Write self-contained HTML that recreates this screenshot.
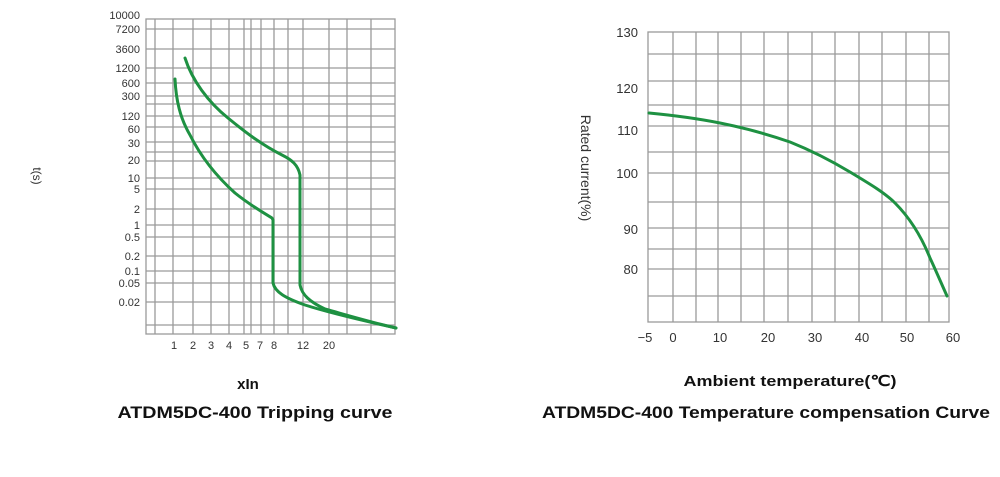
<!DOCTYPE html>
<html><head><meta charset="utf-8"><style>html,body{margin:0;padding:0;background:#fff;}svg{display:block}</style></head>
<body>
<svg width="1000" height="477" viewBox="0 0 1000 477" xmlns="http://www.w3.org/2000/svg" font-family="Liberation Sans, sans-serif">
<g stroke="#9a9a9a" stroke-width="1.3" fill="none">
<rect x="146" y="19" width="249" height="315"/>
<path d="M155 19V334M173 19V334M193 19V334M211 19V334M229 19V334M244 19V334M251 19V334M261 19V334M274 19V334M288 19V334M303 19V334M329 19V334M347 19V334M371 19V334"/>
<path d="M146 29H395M146 49H395M146 68H395M146 83H395M146 96H395M146 104H395M146 116H395M146 127H395M146 142H395M146 152H395M146 161H395M146 178H395M146 189H395M146 209H395M146 225H395M146 237H395M146 256H395M146 271H395M146 283H395M146 302H395M146 325H395"/>
<rect x="648" y="32" width="301" height="290"/>
<path d="M673 32V322M696 32V322M718 32V322M741 32V322M764 32V322M788 32V322M812 32V322M835 32V322M859 32V322M882 32V322M906 32V322M929 32V322"/>
<path d="M648 54H949M648 81H949M648 105H949M648 126H949M648 152H949M648 173H949M648 202H949M648 228H949M648 249H949M648 269H949M648 296H949"/>
</g>
<g fill="#333" font-size="11" text-anchor="end">
<text x="140" y="19">10000</text><text x="140" y="33">7200</text><text x="140" y="53">3600</text><text x="140" y="72">1200</text><text x="140" y="87">600</text><text x="140" y="100">300</text><text x="140" y="120">120</text><text x="140" y="133">60</text><text x="140" y="147">30</text><text x="140" y="164">20</text><text x="140" y="182">10</text><text x="140" y="193">5</text><text x="140" y="213">2</text><text x="140" y="229">1</text><text x="140" y="241">0.5</text><text x="140" y="260">0.2</text><text x="140" y="275">0.1</text><text x="140" y="287">0.05</text><text x="140" y="306">0.02</text>
</g>
<g fill="#333" font-size="11" text-anchor="middle">
<text x="174" y="349">1</text><text x="193" y="349">2</text><text x="211" y="349">3</text><text x="229" y="349">4</text><text x="246" y="349">5</text><text x="260" y="349">7</text><text x="274" y="349">8</text><text x="303" y="349">12</text><text x="329" y="349">20</text>
</g>
<g fill="#333" font-size="13" text-anchor="end">
<text x="638" y="37">130</text><text x="638" y="93">120</text><text x="638" y="135">110</text><text x="638" y="178">100</text><text x="638" y="234">90</text><text x="638" y="274">80</text>
</g>
<g fill="#333" font-size="13" text-anchor="middle">
<text x="645" y="342">−5</text><text x="673" y="342">0</text><text x="720" y="342">10</text><text x="768" y="342">20</text><text x="815" y="342">30</text><text x="862" y="342">40</text><text x="907" y="342">50</text><text x="953" y="342">60</text>
</g>
<text transform="translate(33,176) rotate(90)" font-size="12" fill="#333" text-anchor="middle">t(s)</text>
<text transform="translate(581,168) rotate(90)" font-size="14" fill="#333" text-anchor="middle">Rated current(%)</text>
<g fill="#111" font-weight="bold" text-anchor="middle">
<text x="248" y="389" font-size="15">xIn</text>
<text x="255" y="418" font-size="17" textLength="275" lengthAdjust="spacingAndGlyphs">ATDM5DC-400  Tripping curve</text>
<text x="790" y="386" font-size="15" textLength="213" lengthAdjust="spacingAndGlyphs">Ambient temperature(℃)</text>
<text x="766" y="418" font-size="17" textLength="448" lengthAdjust="spacingAndGlyphs">ATDM5DC-400 Temperature compensation Curve</text>
</g>
<g stroke="#1e9142" stroke-width="3" fill="none" stroke-linejoin="round" stroke-linecap="round">
<path d="M175 79C176 100 180 118 190 135C200 155 215 175 235 193C250 205 262 212 272 218L273 220L273 283C275 292 285 298 305 305C330 313 360 320 396 328"/>
<path d="M185 58C192 80 208 102 228 118C245 132 262 145 282 155C292 160 298 165 300 175L300 285C302 295 310 302 325 309C350 316 370 322 396 328"/>
<path d="M649 113C670 115 700 119 720 123C745 128 770 135 790 142C810 150 830 160 850 172C870 184 885 193 895 203C910 218 922 238 930 258C937 273 942 285 947 296"/>
</g>
</svg>
</body></html>
